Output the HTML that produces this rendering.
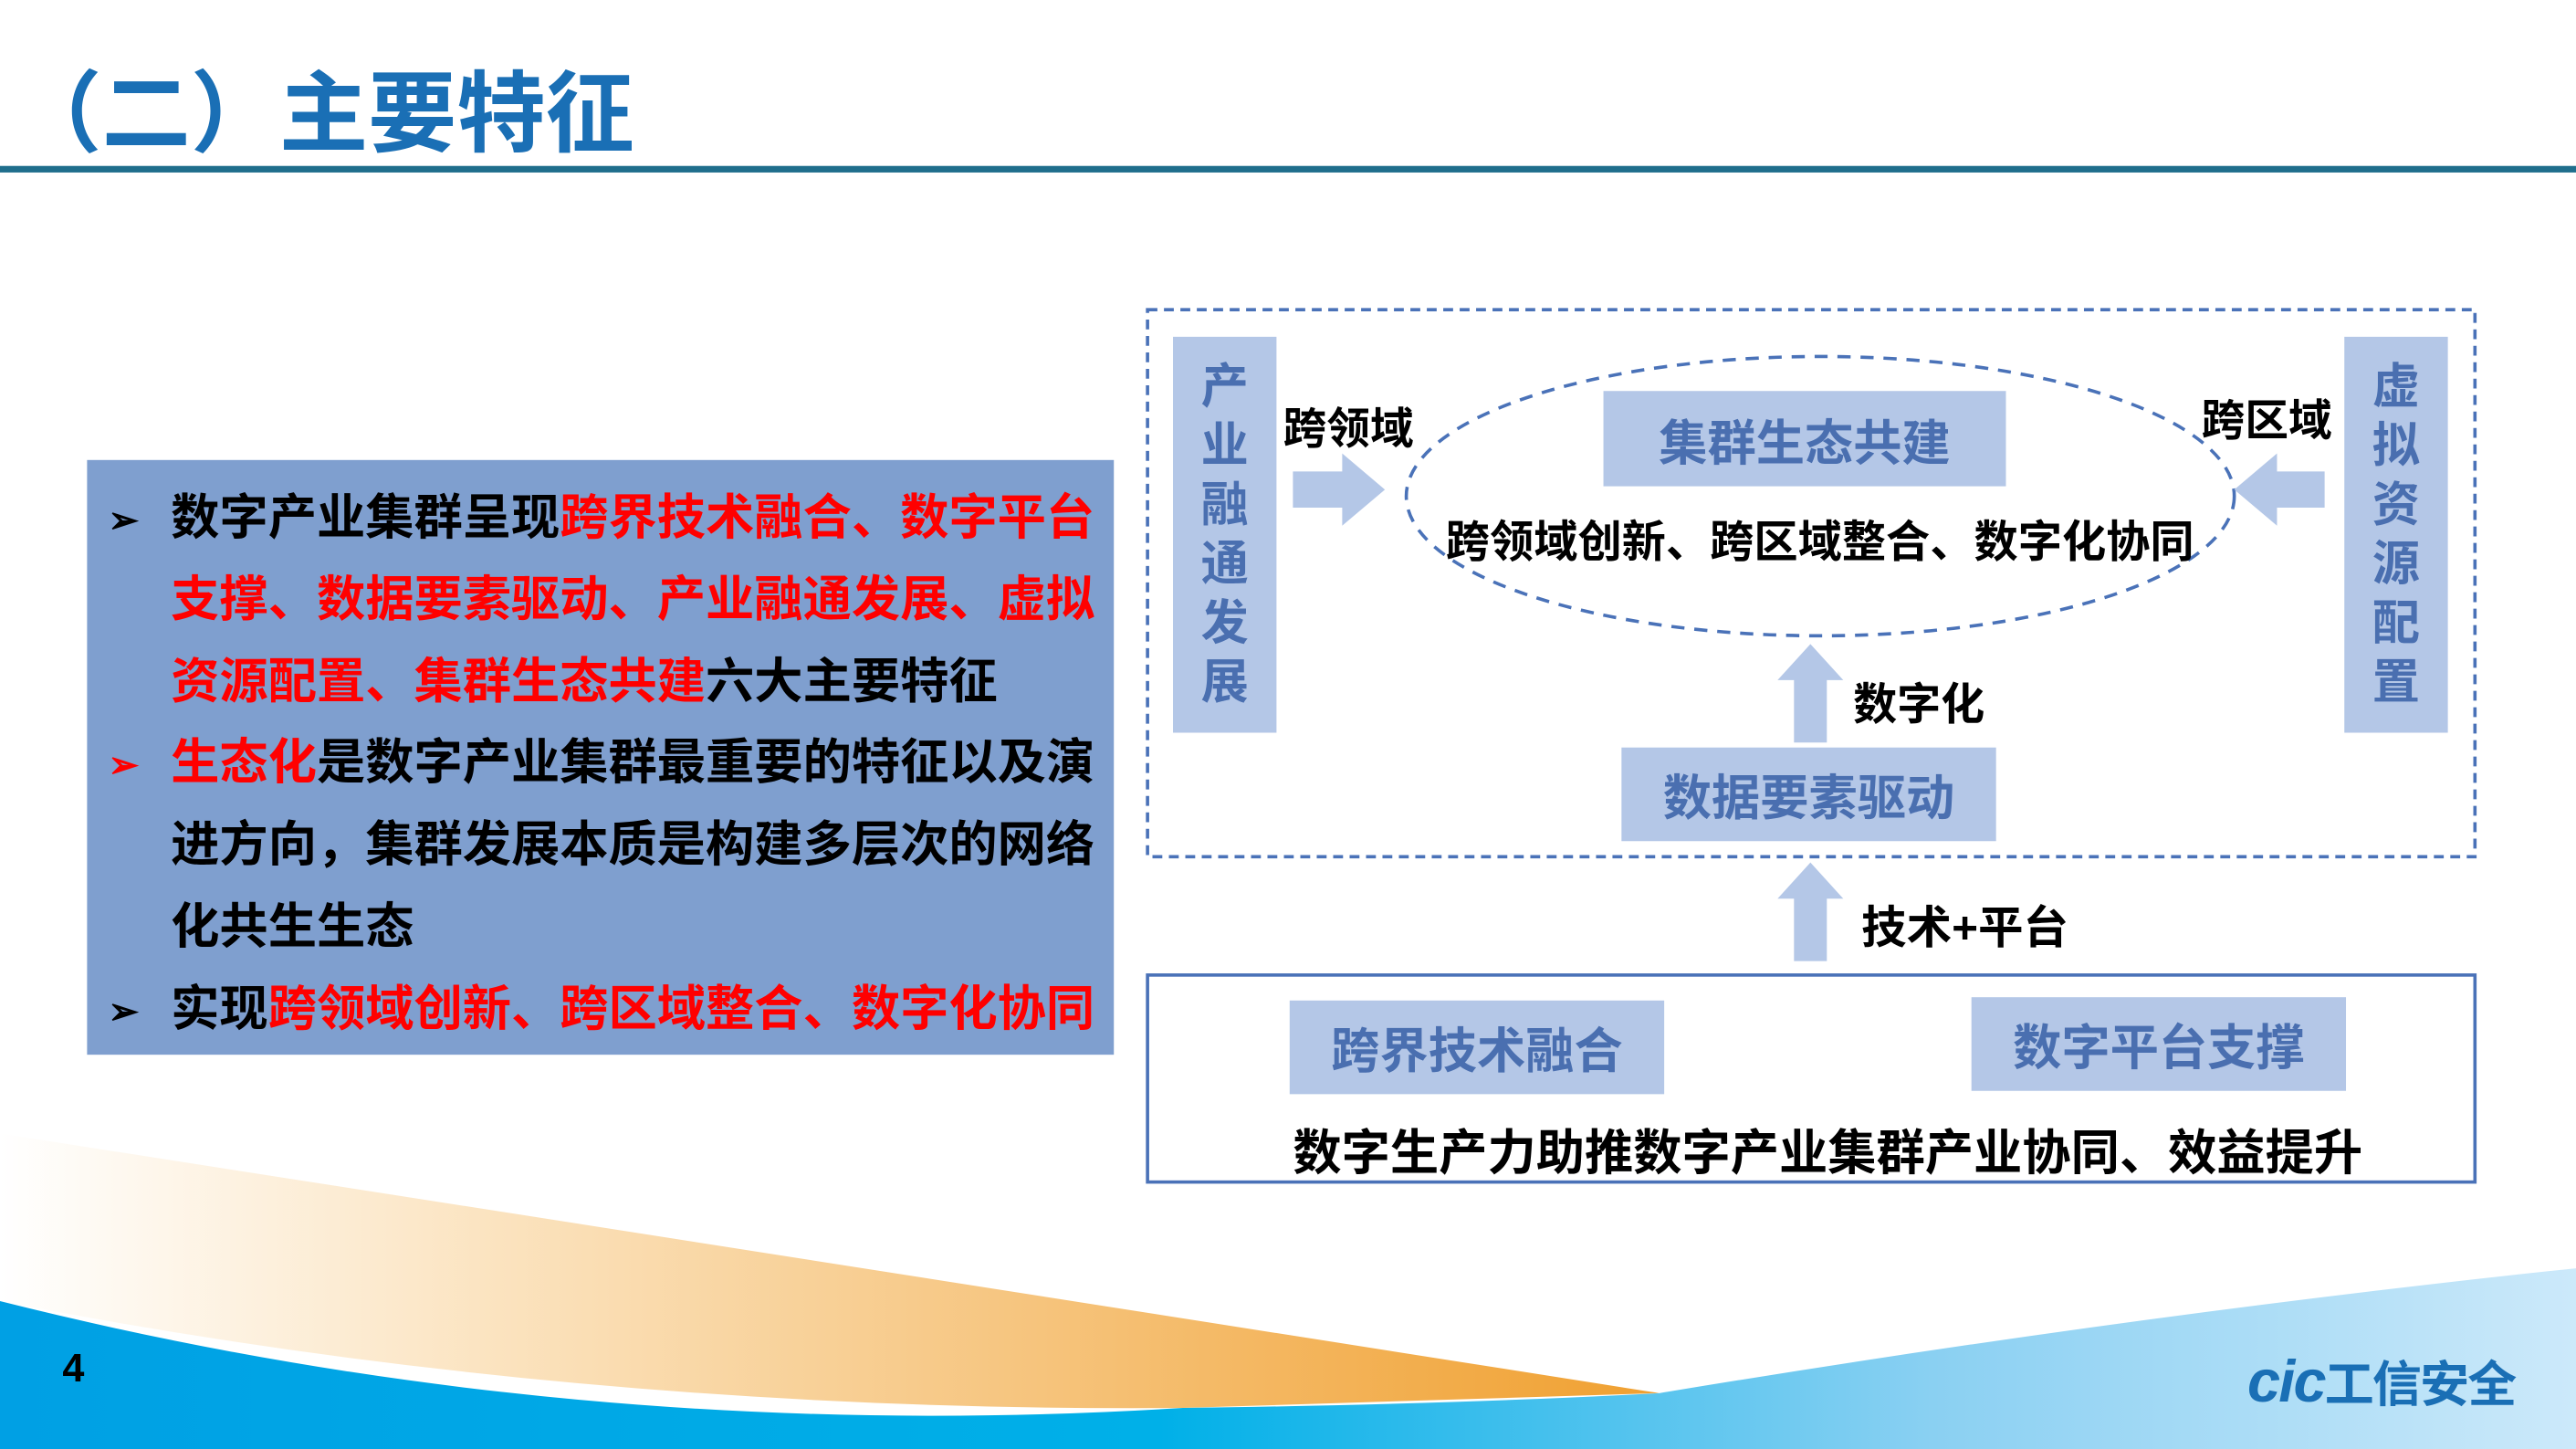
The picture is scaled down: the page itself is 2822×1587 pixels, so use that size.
<!DOCTYPE html>
<html><head><meta charset="utf-8"><style>
html,body{margin:0;padding:0;width:2822px;height:1587px;overflow:hidden;background:#fff}
#s{position:absolute;left:0;top:0;width:1568px;height:882px;transform:scale(1.79974,1.79932);transform-origin:0 0;font-family:"Liberation Sans","Noto Sans CJK SC",sans-serif;font-weight:bold}
.a{position:absolute;white-space:nowrap}
.box{position:absolute;background:#b4c7e7;color:#4a6fb0;display:flex;align-items:center;justify-content:center;font-size:29.6px}
.lt{position:absolute;left:104px;font-size:29.6px;color:#000;line-height:50px;white-space:nowrap}
.bl{position:absolute;left:66px;font-size:22px;line-height:50px}
.r{color:#ff0000}
</style></head><body><div id="s">
<svg width="1568" height="882" style="position:absolute;left:0;top:0">
<defs>
<linearGradient id="og" x1="0" x2="1" y1="0" y2="0"><stop offset="0" stop-color="#fff"/><stop offset="0.3" stop-color="#fbe3bf"/><stop offset="1" stop-color="#f0a030"/></linearGradient>
<linearGradient id="bg" x1="0" x2="1" y1="0" y2="0"><stop offset="0" stop-color="#00a0e4"/><stop offset="0.45" stop-color="#00b0e8"/><stop offset="0.75" stop-color="#8ad0f2"/><stop offset="1" stop-color="#cce9fa"/></linearGradient>
</defs>
<path d="M0,690 Q450,760 1010,848 L720,857 Q350,860 0,792 Z" fill="url(#og)"/>
<path d="M0,792 Q350,880 720,857 Q880,855 1010,848 Q1300,800 1568,772 L1568,882 L0,882 Z" fill="url(#bg)"/>
<rect x="0" y="101" width="1568" height="4" fill="#1f6e8c"/>
<rect x="698.5" y="188.5" width="808" height="333" fill="none" stroke="#4a72b8" stroke-width="2" stroke-dasharray="6,4"/>
<ellipse cx="1108" cy="302" rx="252" ry="85" fill="none" stroke="#4a72b8" stroke-width="2" stroke-dasharray="8,6"/>
<rect x="698.5" y="593.5" width="808" height="126" fill="none" stroke="#4a72b8" stroke-width="2"/>
<path d="M787,287 L817,287 L817,276 L843,298 L817,320 L817,309 L787,309 Z" fill="#b4c7e7"/>
<path d="M1415,287 L1386,287 L1386,276 L1360,298 L1386,320 L1386,309 L1415,309 Z" fill="#b4c7e7"/>
<path d="M1092,452 L1092,414 L1082,414 L1102,392 L1122,414 L1112,414 L1112,452 Z" fill="#b4c7e7"/>
<path d="M1092,585 L1092,547 L1082,547 L1102,525 L1122,547 L1112,547 L1112,585 Z" fill="#b4c7e7"/>
</svg>
<div class="a" style="left:8px;top:38px;font-size:54px;color:#1a6fb5;line-height:64px">（二）主要特征</div>
<div style="position:absolute;left:53px;top:280px;width:625px;height:362px;background:#7f9fcf"></div>
<div class="bl" style="top:292px">➢</div>
<div class="lt" style="top:291px">数字产业集群呈现<span class="r">跨界技术融合、数字平台</span></div>
<div class="lt" style="top:341px"><span class="r">支撑、数据要素驱动、产业融通发展、虚拟</span></div>
<div class="lt" style="top:391px"><span class="r">资源配置、集群生态共建</span>六大主要特征</div>
<div class="bl r" style="top:441px">➢</div>
<div class="lt" style="top:440px"><span class="r">生态化</span>是数字产业集群最重要的特征以及演</div>
<div class="lt" style="top:490px">进方向，集群发展本质是构建多层次的网络</div>
<div class="lt" style="top:540px">化共生生态</div>
<div class="bl" style="top:591px">➢</div>
<div class="lt" style="top:590px">实现<span class="r">跨领域创新、跨区域整合、数字化协同</span></div>
<div class="box" style="left:714px;top:205px;width:63px;height:241px;line-height:36px;text-align:center;font-size:29px">产<br>业<br>融<br>通<br>发<br>展</div>
<div class="box" style="left:1427px;top:205px;width:63px;height:241px;line-height:36px;text-align:center;font-size:29px">虚<br>拟<br>资<br>源<br>配<br>置</div>
<div class="box" style="left:976px;top:238px;width:245px;height:58px">集群生态共建</div>
<div class="box" style="left:987px;top:455px;width:228px;height:57px">数据要素驱动</div>
<div class="box" style="left:785px;top:609px;width:228px;height:57px">跨界技术融合</div>
<div class="box" style="left:1200px;top:607px;width:228px;height:57px">数字平台支撑</div>
<div class="a" style="left:781px;top:239px;font-size:26.5px">跨领域</div>
<div class="a" style="left:1340px;top:234px;font-size:26.5px">跨区域</div>
<div class="a" style="left:880px;top:308px;font-size:26.8px">跨领域创新、跨区域整合、数字化协同</div>
<div class="a" style="left:1128px;top:407px;font-size:26.7px">数字化</div>
<div class="a" style="left:1133px;top:542px;font-size:27.5px">技术+平台</div>
<div class="a" style="left:787px;top:678px;font-size:29.6px">数字生产力助推数字产业集群产业协同、效益提升</div>
<div class="a" style="left:38px;top:820px;font-size:24px;color:#000">4</div>
<div class="a" style="left:1368px;top:820px;font-size:36px;color:#1a6fb5;font-style:italic;letter-spacing:-1px;line-height:42px">cic<span style="font-size:30px;font-style:normal">工信安全</span></div>
</div></body></html>
